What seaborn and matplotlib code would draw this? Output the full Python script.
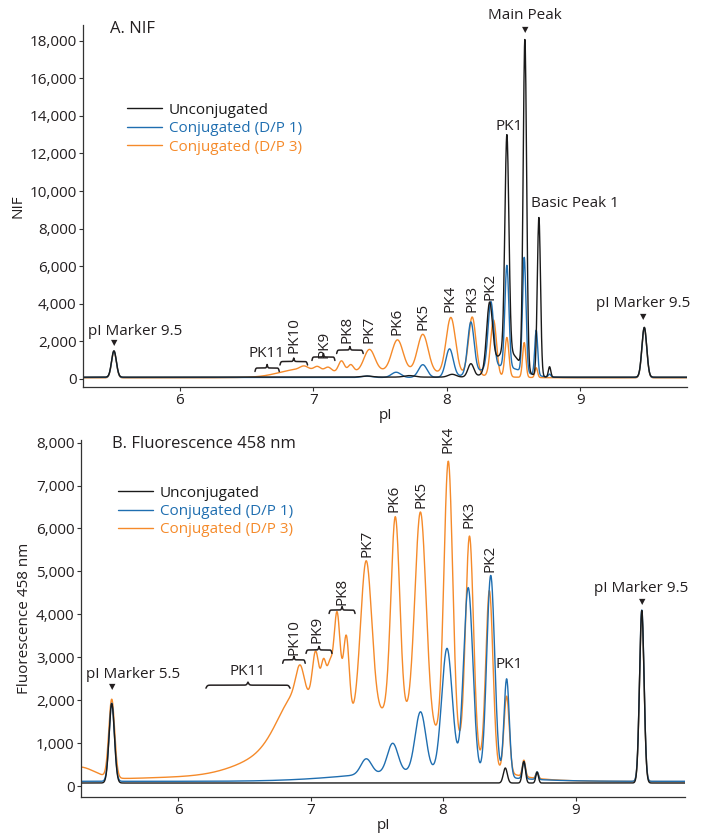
import numpy as np
import pandas as pd
import matplotlib
matplotlib.use("Agg")
import matplotlib.pyplot as plt
import seaborn as sns
from matplotlib.ticker import FuncFormatter, FixedLocator

sns.set_style("ticks")
plt.rcParams['font.family'] = ['Open Sans', 'DejaVu Sans']

# ------------------------------------------------------------------ data
SERIES = ["Unconjugated", "Conjugated (D/P 1)", "Conjugated (D/P 3)"]
COLORS = {"Unconjugated": "#1a1a1a",
          "Conjugated (D/P 1)": "#1f6eb0",
          "Conjugated (D/P 3)": "#f58a2a"}

PI_GRID = np.arange(5.20, 9.90, 0.002)
X_TICKS = [6, 7, 8, 9]
NIF_TICKS = [0, 2000, 4000, 6000, 8000, 10000, 12000, 14000, 16000, 18000]
FL_TICKS = [0, 1000, 2000, 3000, 4000, 5000, 6000, 7000, 8000]

# Panel A (NIF) peak tables: centre pI, height, width (sigma)
NIF_UNCONJ_BASE = 100
NIF_UNCONJ_PI = [5.505, 7.40, 7.72, 8.04, 8.18, 8.32, 8.45, 8.45, 8.585, 8.69, 8.77, 9.48]
NIF_UNCONJ_H = [1400, 60, 80, 150, 700, 3500, 1400, 11500, 17550, 8450, 550, 2650]
NIF_UNCONJ_W = [0.018, 0.04, 0.04, 0.03, 0.022, 0.022, 0.09, 0.015, 0.013, 0.012, 0.009, 0.018]

NIF_DP1_BASE = 80
NIF_DP1_PI = [5.505, 7.40, 7.62, 7.82, 8.02, 8.18, 8.33, 8.40, 8.45, 8.58, 8.67, 8.77, 9.48]
NIF_DP1_H = [1400, 70, 280, 680, 1500, 2750, 3500, 600, 5400, 6100, 2400, 150, 2650]
NIF_DP1_W = [0.018, 0.04, 0.035, 0.032, 0.028, 0.024, 0.021, 0.15, 0.015, 0.013, 0.011, 0.009, 0.018]

NIF_DP3_BASE = 60
NIF_DP3_PI = [5.505, 6.88, 6.93, 7.03, 7.11, 7.21, 7.28, 7.42, 7.63, 7.82, 8.03, 8.19, 8.35,
              8.45, 8.58, 8.67, 9.48, 7.55]
NIF_DP3_H = [1400, 330, 180, 230, 250, 600, 380, 1150, 1650, 2000, 3000, 3100, 3000,
             2100, 1850, 520, 2650, 380]
NIF_DP3_W = [0.018, 0.14, 0.03, 0.025, 0.025, 0.022, 0.020, 0.040, 0.042, 0.040, 0.035, 0.028, 0.022,
             0.015, 0.012, 0.010, 0.018, 0.45]

# Panel B (fluorescence 458 nm) peak tables
FL_UNCONJ_BASE = 70
FL_UNCONJ_PI = [5.50, 8.47, 8.61, 8.71, 9.50]
FL_UNCONJ_H = [1850, 350, 500, 250, 4020]
FL_UNCONJ_W = [0.020, 0.015, 0.012, 0.010, 0.017]

FL_DP1_BASE = 110
FL_DP1_PI = [5.50, 7.42, 7.62, 7.83, 8.03, 8.19, 8.36, 8.48, 8.61, 8.71, 9.50, 7.80]
FL_DP1_H = [1820, 360, 680, 1400, 2900, 4350, 4680, 2300, 400, 180, 3990, 220]
FL_DP1_W = [0.020, 0.040, 0.040, 0.040, 0.040, 0.035, 0.030, 0.020, 0.012, 0.010, 0.017, 0.50]

FL_DP3_BASE = 100
FL_DP3_PI = [5.25, 6.80, 7.55, 6.90, 6.70, 5.50, 6.92, 7.04, 7.10, 7.145, 7.20, 7.27, 7.42, 7.64,
             7.83, 8.04, 8.20, 8.35, 8.48, 8.61, 8.71, 9.50]
FL_DP3_H = [300, 150, 1500, 1200, 300, 1825, 620, 1250, 1150, 1060, 2520, 1930, 3580, 4600,
            4960, 6570, 5140, 4100, 1780, 380, 150, 3880]
FL_DP3_W = [0.12, 1.00, 0.45, 0.14, 0.25, 0.022, 0.030, 0.025, 0.020, 0.020, 0.025, 0.022, 0.042, 0.033,
            0.042, 0.033, 0.030, 0.027, 0.020, 0.012, 0.010, 0.017]

# ------------------------------------------------------------------ helpers
TXT = "#231f20"
FS = 11


def trace(base, centres, heights, widths):
    x = PI_GRID
    y = np.full_like(x, float(base))
    for c, h, w in zip(centres, heights, widths):
        y = y + h * np.exp(-(x - c) ** 2 / (2 * w ** 2))
    return y


def build_frame(tables):
    frames = []
    for name, (b, c, h, w) in tables.items():
        frames.append(pd.DataFrame({"pI": PI_GRID, "signal": trace(b, c, h, w), "sample": name}))
    return pd.concat(frames, ignore_index=True)


def brace(ax, x1, x2, yc, h, beta=60):
    t = np.linspace(0, 0.5, 101)
    half = 1 / (1 + np.exp(-beta * (t - t[0]))) + 1 / (1 + np.exp(-beta * (t - t[-1])))
    yb = np.concatenate((half, half[-2::-1]))
    xs = np.linspace(x1, x2, len(yb))
    ys = (yc - h / 2) + h * (yb - 0.5)
    ax.plot(xs, ys, color=TXT, lw=1.1, clip_on=False, solid_capstyle="round")


def vlabel(ax, s, x, y):
    ax.text(x, y, s, rotation=90, ha="center", va="bottom", fontsize=FS, color=TXT, clip_on=False)


def hlabel(ax, s, x, y, ha="center"):
    ax.text(x, y, s, ha=ha, va="center", fontsize=FS, color=TXT, clip_on=False)


def arrow(ax, x, y):
    ax.text(x, y, "\u25BC", ha="center", va="center", fontsize=6, color=TXT,
            family="DejaVu Sans", clip_on=False)


def style_axes(ax, xlim, ylim, yticks, ylabel):
    ax.set_xlim(*xlim)
    ax.set_ylim(*ylim)
    ax.xaxis.set_major_locator(FixedLocator(X_TICKS))
    ax.yaxis.set_major_locator(FixedLocator(yticks))
    ax.yaxis.set_major_formatter(FuncFormatter(lambda v, p: f"{int(v):,}"))
    ax.xaxis.set_major_formatter(FuncFormatter(lambda v, p: f"{int(v)}"))
    for side in ("top", "right"):
        ax.spines[side].set_visible(False)
    for side in ("left", "bottom"):
        ax.spines[side].set_color("#333333")
        ax.spines[side].set_linewidth(0.9)
    ax.tick_params(direction="out", length=3, width=0.8, pad=1.5, labelsize=FS,
                   colors="#333333", labelcolor=TXT)
    ax.set_xlabel("pI", fontsize=FS, color=TXT, labelpad=0)
    ax.set_ylabel(ylabel, fontsize=FS, color=TXT, labelpad=3)


def draw_traces(ax, df):
    for name in SERIES[::-1]:
        sub = df[df["sample"] == name]
        sns.lineplot(data=sub, x="pI", y="signal", color=COLORS[name], lw=1.0,
                     estimator=None, sort=False, legend=False, ax=ax, label=name)


def add_legend(ax, anchor):
    hs = [h for h in ax.get_lines() if h.get_label() in SERIES]
    order = {n: i for i, n in enumerate(SERIES)}
    hs.sort(key=lambda h: order[h.get_label()])
    leg = ax.legend(handles=hs, labels=[h.get_label() for h in hs], loc="upper left",
                    bbox_to_anchor=anchor, frameon=False, fontsize=FS, handlelength=2.3,
                    handletextpad=0.45, labelspacing=0.22, borderpad=0, borderaxespad=0)
    for txt, h in zip(leg.get_texts(), hs):
        txt.set_color(h.get_color())


# ------------------------------------------------------------------ figure
fig = plt.figure(figsize=(7.05, 8.33), dpi=100)
axA = fig.add_axes([83 / 705, (833 - 387) / 833, 604 / 705, 362 / 833])
axB = fig.add_axes([81 / 705, (833 - 797) / 833, 604 / 705, 357 / 833])

dfA = build_frame({
    "Unconjugated": (NIF_UNCONJ_BASE, NIF_UNCONJ_PI, NIF_UNCONJ_H, NIF_UNCONJ_W),
    "Conjugated (D/P 1)": (NIF_DP1_BASE, NIF_DP1_PI, NIF_DP1_H, NIF_DP1_W),
    "Conjugated (D/P 3)": (NIF_DP3_BASE, NIF_DP3_PI, NIF_DP3_H, NIF_DP3_W),
})
dfB = build_frame({
    "Unconjugated": (FL_UNCONJ_BASE, FL_UNCONJ_PI, FL_UNCONJ_H, FL_UNCONJ_W),
    "Conjugated (D/P 1)": (FL_DP1_BASE, FL_DP1_PI, FL_DP1_H, FL_DP1_W),
    "Conjugated (D/P 3)": (FL_DP3_BASE, FL_DP3_PI, FL_DP3_H, FL_DP3_W),
})

draw_traces(axA, dfA)
draw_traces(axB, dfB)
style_axes(axA, (5.273, 9.80), (-426, 18833), NIF_TICKS, "NIF")
style_axes(axB, (5.268, 9.826), (-256, 8062), FL_TICKS, "Fluorescence 458 nm")
add_legend(axA, (0.073, 0.785))
add_legend(axB, (0.061, 0.872))

# ---- panel A annotations
axA.text(5.476, 18620, "A. NIF", fontsize=FS + 1, color=TXT, ha="left", va="center")
hlabel(axA, "Main Peak", 8.584, 19365)
arrow(axA, 8.584, 18600)
hlabel(axA, "PK1", 8.464, 13420)
hlabel(axA, "Basic Peak 1", 8.634, 9360, ha="left")
hlabel(axA, "pI Marker 9.5", 9.468, 4040)
arrow(axA, 9.47, 3330)
hlabel(axA, "pI Marker 9.5", 5.31, 2520, ha="left")
arrow(axA, 5.51, 1930)
for s, x, y in [("PK2", 8.322, 4200), ("PK3", 8.187, 3580), ("PK4", 8.02, 3580),
                ("PK5", 7.82, 2600), ("PK6", 7.625, 2340), ("PK7", 7.416, 1900),
                ("PK8", 7.25, 1900), ("PK9", 7.08, 1100), ("PK10", 6.858, 1370)]:
    vlabel(axA, s, x, y)
hlabel(axA, "PK11", 6.65, 1380)
for x1, x2, yc in [(7.174, 7.373, 1540), (6.989, 7.161, 1170), (6.749, 6.956, 930), (6.562, 6.744, 585)]:
    brace(axA, x1, x2, yc, 370)

# ---- panel B annotations
axB.text(5.50, 7970, "B. Fluorescence 458 nm", fontsize=FS + 1, color=TXT, ha="left", va="center")
for s, x, y in [("PK4", 8.038, 7760), ("PK5", 7.834, 6480), ("PK6", 7.63, 6380),
                ("PK7", 7.426, 5340), ("PK3", 8.196, 6010), ("PK2", 8.355, 4990),
                ("PK8", 7.238, 4220), ("PK9", 7.049, 3330), ("PK10", 6.875, 3050)]:
    vlabel(axB, s, x, y)
hlabel(axB, "PK1", 8.498, 2820)
hlabel(axB, "PK11", 6.528, 2660)
hlabel(axB, "pI Marker 5.5", 5.66, 2590)
arrow(axB, 5.504, 2310)
hlabel(axB, "pI Marker 9.5", 9.494, 4610)
arrow(axB, 9.50, 4290)
for x1, x2, yc, hh in [(6.211, 6.845, 2350, 140), (6.79, 6.96, 2940, 160),
                       (6.966, 7.162, 3170, 160), (7.14, 7.336, 4100, 160)]:
    brace(axB, x1, x2, yc, hh, beta=60 if x2 - x1 < 0.3 else 120)

fig.savefig("out.png", dpi=100)
